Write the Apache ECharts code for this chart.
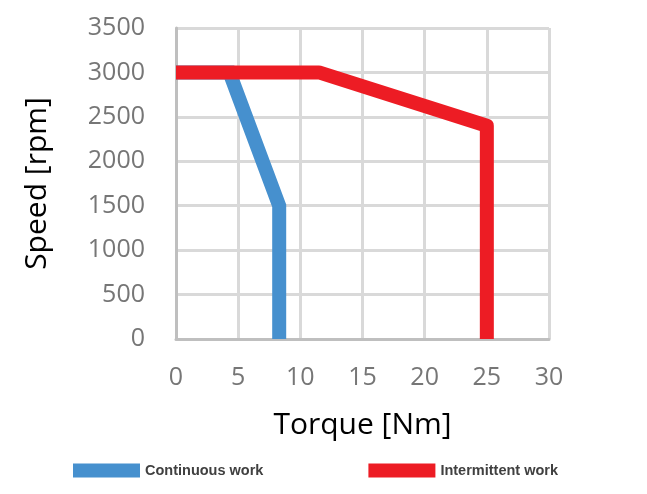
<!DOCTYPE html>
<html>
<head>
<meta charset="utf-8">
<script src="https://cdn.jsdelivr.net/npm/echarts@6/dist/echarts.min.js"></script>
<style>
  html, body { margin: 0; padding: 0; background: #fff; }
  #chart { width: 647px; height: 494px; }
</style>
</head>
<body>
<div id="chart"></div>
<script>
// torque [Nm] / speed [rpm] points
const contTorque = [0, 4.3, 8.3, 8.3];
const contSpeed = [3000, 3000, 1500, 0];
const interTorque = [0, 11.5, 25, 25];
const interSpeed = [3000, 3000, 2400, 0];
const seriesNames = ["Continuous work", "Intermittent work"];

const toPairs = (xs, ys) => xs.map((x, i) => [x, ys[i]]);

const mychart = echarts.init(document.getElementById("chart"));
const tickFont = { fontFamily: "Open Sans", fontSize: 25, color: "#767676" };
const nameFont = { fontFamily: "Open Sans", fontSize: 30, color: "#000" };
const gridLine = { show: true, lineStyle: { color: "#D9D9D9", width: 3 } };
const axisLine = { show: true, lineStyle: { color: "#BFBFBF", width: 3 } };

const option = {
  animation: false,
  grid: { left: 176, top: 28, right: 98, bottom: 155 },
  legend: {
    top: 463,
    left: 73,
    padding: 0,
    icon: "rect",
    itemWidth: 67,
    itemHeight: 14,
    itemGap: 105,
    textStyle: { fontFamily: "Liberation Sans", fontSize: 14.5, fontWeight: "bold", color: "#404040" },
    data: seriesNames,
  },
  xAxis: {
    type: "value",
    min: 0,
    max: 30,
    interval: 5,
    name: "Torque [Nm]",
    nameLocation: "middle",
    nameGap: 71,
    nameTextStyle: nameFont,
    axisLabel: Object.assign({ margin: 26 }, tickFont),
    axisTick: { show: false },
    axisLine: axisLine,
    splitLine: gridLine,
  },
  yAxis: {
    type: "value",
    min: 0,
    max: 3500,
    interval: 500,
    name: "Speed [rpm]",
    nameLocation: "middle",
    nameGap: 124,
    nameTextStyle: nameFont,
    axisLabel: Object.assign({ margin: 31, formatter: (v) => String(v) }, tickFont),
    axisTick: { show: false },
    axisLine: axisLine,
    splitLine: gridLine,
  },
  series: [
    {
      name: seriesNames[0],
      type: "line",
      data: toPairs(contTorque, contSpeed),
      symbol: "none",
      color: "#4690CE",
      lineStyle: { width: 14, color: "#4690CE", join: "miter" },
    },
    {
      name: seriesNames[1],
      type: "line",
      data: toPairs(interTorque, interSpeed),
      symbol: "none",
      color: "#ED1C24",
      lineStyle: { width: 14, color: "#ED1C24", join: "round" },
    },
  ],
};
mychart.setOption(option);
</script>
</body>
</html>
